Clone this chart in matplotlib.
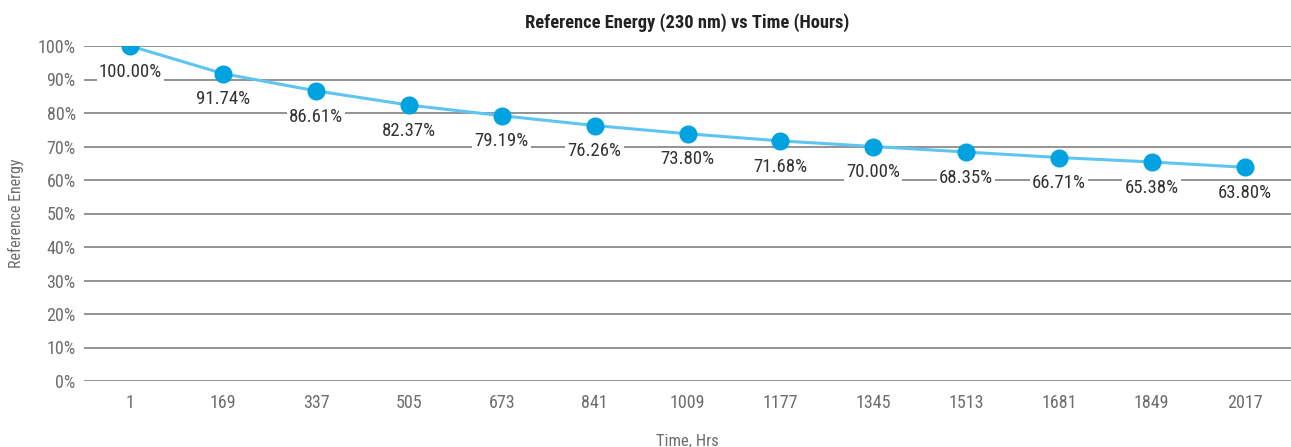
import matplotlib
matplotlib.use("Agg")
import matplotlib.pyplot as plt
import numpy as np

# ── data ────────────────────────────────────────────────────────────
hours  = ['1', '169', '337', '505', '673', '841', '1009', '1177',
          '1345', '1513', '1681', '1849', '2017']
energy = [100.00, 91.74, 86.61, 82.37, 79.19, 76.26, 73.80, 71.68,
          70.00, 68.35, 66.71, 65.38, 63.80]

plt.rcParams['font.family'] = ['Roboto Condensed', 'Liberation Sans Narrow', 'DejaVu Sans']

fig = plt.figure(figsize=(12.91, 4.47), dpi=100)
ax = fig.add_axes([84 / 1291, 66 / 447, 1207 / 1291, 335 / 447])

x = np.arange(len(hours))
ax.plot(x, energy, color='#5ec4f0', linewidth=2.2, zorder=3)
ax.plot(x, energy, 'o', color='#00a3e0', markersize=12, zorder=4)

for xi, v in zip(x, energy):
    ax.annotate(f'{v:.2f}%', (xi, v), xytext=(0, -12), textcoords='offset points',
                ha='center', va='top', fontsize=13.5, color='#333333', zorder=5,
                bbox=dict(boxstyle='square,pad=0.12', fc='white', ec='none'))

ax.set_xlim(-0.5, len(hours) - 0.5)
ax.set_ylim(0, 100)
ax.set_yticks(np.arange(0, 101, 10))
ax.set_yticklabels([f'{t}%' for t in range(0, 101, 10)])
ax.set_xticks(x)
ax.set_xticklabels(hours)
ax.yaxis.grid(True, color='#808080', linewidth=1.2)
ax.set_axisbelow(True)
for s in ax.spines.values():
    s.set_visible(False)
ax.tick_params(axis='both', length=0, labelsize=13, labelcolor='#6d6d6d')
ax.tick_params(axis='x', pad=9)
ax.tick_params(axis='y', pad=6)

ax.set_title('Reference Energy (230 nm) vs Time (Hours)', fontsize=13.3,
             fontweight='bold', color='#222222', pad=13)
ax.set_ylabel('Reference Energy', fontsize=11.5, color='#6d6d6d', labelpad=10)
ax.set_xlabel('Time, Hrs', fontsize=12, color='#6d6d6d', labelpad=16)

fig.savefig('out.png', dpi=100)
